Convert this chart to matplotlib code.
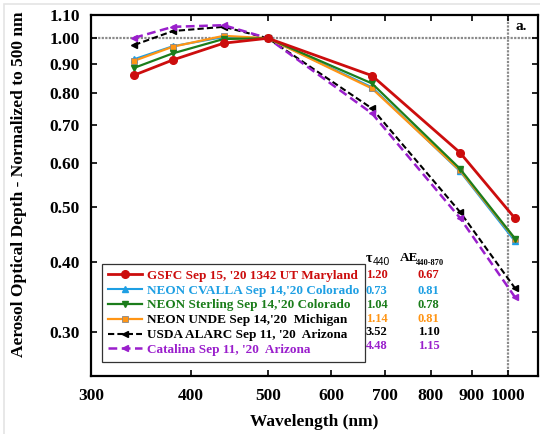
import matplotlib
matplotlib.use("Agg")
import matplotlib.pyplot as plt
from matplotlib.ticker import FixedLocator, FixedFormatter, NullLocator
from matplotlib.patches import Rectangle

# AOD normalized to 500 nm
wavelengths = [340, 380, 440, 500, 675, 870, 1020]
gsfc = [0.860, 0.915, 0.980, 1.000, 0.858, 0.626, 0.478]
cvalla = [0.918, 0.968, 1.005, 1.000, 0.818, 0.580, 0.435]
sterling = [0.886, 0.940, 0.997, 1.000, 0.831, 0.586, 0.440]
unde = [0.912, 0.966, 1.010, 1.000, 0.814, 0.582, 0.439]
usda = [0.973, 1.030, 1.048, 1.000, 0.750, 0.491, 0.359]
catalina = [1.002, 1.048, 1.055, 1.000, 0.735, 0.479, 0.346]

labels = ["GSFC Sep 15, '20 1342 UT Maryland",
          "NEON CVALLA Sep 14,'20 Colorado",
          "NEON Sterling Sep 14,'20 Colorado",
          "NEON UNDE Sep 14,'20  Michigan",
          "USDA ALARC Sep 11, '20  Arizona",
          "Catalina Sep 11, '20  Arizona"]
tau440 = ["1.20", "0.73", "1.04", "1.14", "3.52", "4.48"]
ae440_870 = ["0.67", "0.81", "0.78", "0.81", "1.10", "1.15"]

xticks = [300, 400, 500, 600, 700, 800, 900, 1000]
yticks = [0.30, 0.40, 0.50, 0.60, 0.70, 0.80, 0.90, 1.00, 1.10]

plt.rcParams['font.family'] = ['Liberation Serif', 'DejaVu Serif']
plt.rcParams['font.weight'] = 'bold'

W, H = 540, 434
fig = plt.figure(figsize=(W / 100, H / 100), dpi=100)
fig.patch.set_facecolor('white')
# light screenshot frame
fig.patches.append(Rectangle((4 / W, -0.1), 1.2, 1.1 - 4 / H, transform=fig.transFigure,
                             facecolor='none', edgecolor='#e4e4e4', lw=1.2))

ax = fig.add_axes([91 / W, 1 - 376 / H, 447 / W, 361 / H])
ax.set_xscale('log')
ax.set_yscale('log')
ax.set_xlim(300, 1090)
ax.set_ylim(0.2505, 1.10)

ax.axhline(1.0, color='#8a8a8a', lw=1.6, ls=(0, (1, 0.6)), zorder=1)
ax.axvline(1000, color='#8a8a8a', lw=1.6, ls=(0, (1, 0.6)), zorder=1)

series = [
    (gsfc, dict(color='#cc0d0d', lw=2.0, marker='o', ms=5.5, zorder=8)),
    (cvalla, dict(color='#1e9fe3', lw=1.5, marker='^', ms=4, zorder=5)),
    (sterling, dict(color='#1b7d1b', lw=1.6, marker='v', ms=4, zorder=7)),
    (unde, dict(color='#ff9515', lw=1.6, marker='s', ms=4.5, mec='#888888', mew=0.6, zorder=6)),
    (usda, dict(color='black', lw=1.5, ls=(0, (3, 1.5)), marker='<', ms=5, zorder=3)),
    (catalina, dict(color='#9a1fcc', lw=1.8, ls=(0, (3.5, 1.8)), marker='<', ms=4, zorder=4)),
]
for (vals, style), lab in zip(series, labels):
    ax.plot(wavelengths, vals, label=lab, **style)

ax.xaxis.set_major_locator(FixedLocator(xticks))
ax.xaxis.set_major_formatter(FixedFormatter([str(v) for v in xticks]))
ax.xaxis.set_minor_locator(NullLocator())
ax.yaxis.set_major_locator(FixedLocator(yticks))
ax.yaxis.set_major_formatter(FixedFormatter(["%.2f" % v for v in yticks]))
ax.yaxis.set_minor_locator(NullLocator())
ax.tick_params(which='both', direction='in', top=True, right=True, length=4, width=1.2,
               labelsize=12.5)
ax.tick_params(axis='x', pad=9)
ax.tick_params(axis='y', pad=8)
for s in ax.spines.values():
    s.set_linewidth(1.6)

ax.set_xlabel('Wavelength (nm)', fontsize=12.5, fontweight='bold', labelpad=7)
ax.set_ylabel('Aerosol Optical Depth - Normalized to 500 nm', fontsize=12.5,
              fontweight='bold')
ax.yaxis.set_label_coords(-64 / 447, 0.53)

text_colors = ['#cc0d0d', '#1e9fe3', '#1b7d1b', 'black', 'black', '#9a1fcc']
val_colors = ['#cc0d0d', '#1e9fe3', '#1b7d1b', '#ff9515', 'black', '#9a1fcc']

leg = ax.legend(loc='lower left', bbox_to_anchor=(11 / 447, 14 / 361), borderaxespad=0,
                fancybox=False, edgecolor='#333333', framealpha=1, fontsize=9.5,
                handlelength=2.6, handletextpad=0.35, labelspacing=0.2,
                borderpad=0.45, numpoints=1)
leg.get_frame().set_linewidth(0.9)
for t, c in zip(leg.get_texts(), text_colors):
    t.set_color(c)
    t.set_fontweight('bold')


def px(x, y):
    # pixel (from top-left of image) to axes fraction
    return (x - 91) / 447, (376 - y) / 361


ax.text(*px(366, 259), 'τ', transform=ax.transAxes, fontsize=10, va='center', ha='left')
ax.text(*px(373, 262), '440', transform=ax.transAxes, fontsize=7.5, va='center', ha='left',
        family='Liberation Sans', fontweight='normal')
ax.text(*px(400, 258), 'AE', transform=ax.transAxes, fontsize=9.5, va='center', ha='left')
ax.text(*px(416, 263), '440-870', transform=ax.transAxes, fontsize=6, va='center', ha='left')

row_y = [275, 291, 305, 319, 332, 346]
for y, t, a, c in zip(row_y, tau440, ae440_870, val_colors):
    ax.text(*px(366, y), t, transform=ax.transAxes, fontsize=9, color=c, va='center', ha='left')
    ax.text(*px(418, y), a, transform=ax.transAxes, fontsize=9, color=c, va='center', ha='left')

ax.text(*px(516, 27), 'a.', transform=ax.transAxes, fontsize=11, va='center', ha='left')

fig.savefig('out.png', dpi=100)
